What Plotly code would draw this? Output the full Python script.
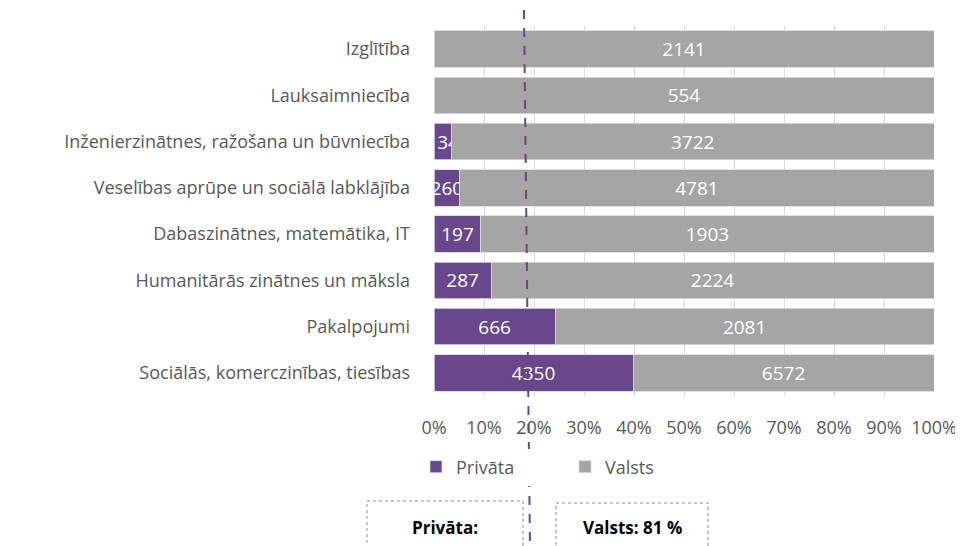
import plotly.graph_objects as go

categories = [
    "Izglītība",
    "Lauksaimniecība",
    "Inženierzinātnes, ražošana un būvniecība",
    "Veselības aprūpe un sociālā labklājība",
    "Dabaszinātnes, matemātika, IT",
    "Humanitārās zinātnes un māksla",
    "Pakalpojumi",
    "Sociālās, komerczinības, tiesības",
]
privata = [0, 0, 134, 260, 197, 287, 666, 4350]
valsts = [2141, 554, 3722, 4781, 1903, 2224, 2081, 6572]
tick_vals = [0, 10, 20, 30, 40, 50, 60, 70, 80, 90, 100]
tick_text = [f"{v}%" for v in tick_vals]

PURPLE = "#68478D"
GRAY = "#A5A5A5"
FONT = "Open Sans"
TXT = "#595959"

# page is offset by the default 8px body margin
OFF = 8
W, H = 963 - OFF, 546 - OFF
L, R, T, B = 434 - OFF, 29, 26 - OFF, 150
pw, ph = W - L - R, H - T - B


def px(x):
    return (x - OFF - L) / pw


def py(y):
    return (H - B - (y - OFF)) / ph


fig = go.Figure()
fig.add_trace(go.Bar(
    y=categories, x=privata, orientation="h", name="Privāta",
    marker=dict(color=PURPLE, line=dict(color="#D9D9D9", width=0.8)),
    text=[str(v) if v else "" for v in privata], textposition="inside",
    insidetextanchor="middle", textangle=0, cliponaxis=False,
    textfont=dict(color="white", size=19, family=FONT),
))
fig.add_trace(go.Bar(
    y=categories, x=valsts, orientation="h", name="Valsts",
    marker=dict(color=GRAY, line=dict(color="#D9D9D9", width=0.8)),
    text=[str(v) for v in valsts], textposition="inside",
    insidetextanchor="middle", textangle=0,
    textfont=dict(color="white", size=19, family=FONT),
))

fig.update_layout(
    width=W, height=H,
    margin=dict(l=L, r=R, t=T, b=B, autoexpand=False),
    barmode="stack", barnorm="percent", bargap=0.21,
    plot_bgcolor="white", paper_bgcolor="white",
    font=dict(family=FONT, size=18, color=TXT),
    uniformtext=dict(minsize=19, mode="show"),
    legend=dict(orientation="h", x=px(416), xanchor="left", y=py(467), yanchor="middle",
                entrywidth=104, entrywidthmode="pixels",
                font=dict(size=18, color=TXT, family=FONT), traceorder="normal"),
    xaxis=dict(range=[0, 100], tickvals=tick_vals, ticktext=tick_text,
               showgrid=True, gridcolor="#D9D9D9", gridwidth=1, zeroline=False,
               showline=False, ticks="", ticklabelstandoff=19, automargin=False,
               tickfont=dict(size=18, color=TXT, family=FONT)),
    yaxis=dict(autorange="reversed", showgrid=False, ticks="", showline=False,
               ticklabelstandoff=23, automargin=False,
               tickfont=dict(size=18, color=TXT, family=FONT)),
)

# dashed reference line
fig.add_shape(type="line", xref="paper", yref="paper",
              x0=px(524), y0=py(10), x1=px(530), y1=py(548),
              line=dict(color=PURPLE, width=2, dash="dash"))

# dashed boxes
fig.add_shape(type="rect", xref="paper", yref="paper",
              x0=px(367), x1=px(523), y0=py(501), y1=py(570),
              line=dict(color="#8C8C8C", width=1, dash="dot"), fillcolor="rgba(0,0,0,0)")
fig.add_shape(type="rect", xref="paper", yref="paper",
              x0=px(556), x1=px(708), y0=py(503), y1=py(570),
              line=dict(color="#8C8C8C", width=1, dash="dot"), fillcolor="rgba(0,0,0,0)")

fig.add_annotation(xref="paper", yref="paper", x=px(445), y=py(527), text="<b>Privāta:</b>",
                   showarrow=False, xanchor="center", yanchor="middle",
                   font=dict(size=17, color="black", family=FONT))
fig.add_annotation(xref="paper", yref="paper", x=px(632), y=py(527), text="<b>Valsts: 81 %</b>",
                   showarrow=False, xanchor="center", yanchor="middle",
                   font=dict(size=17, color="black", family=FONT))

fig.write_html("out.html")
